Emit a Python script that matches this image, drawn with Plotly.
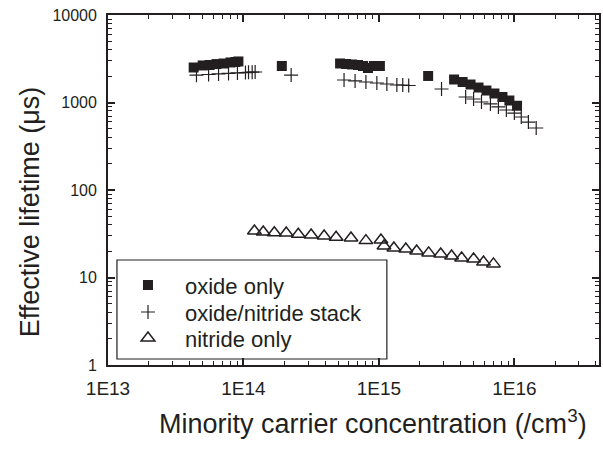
import plotly.graph_objects as go

# ---- data ----
oxide_x = [4.29e13, 5.0e13, 5.62e13, 6.33e13, 7.13e13, 8.02e13, 8.73e13, 9.18e13,
           1.92e14,
           5.17e14, 5.72e14, 6.33e14, 7.01e14, 7.63e14, 8.3e14, 9.18e14, 1.017e15,
           2.31e15,
           3.59e15, 4.15e15, 4.75e15, 5.44e15, 6.22e15, 7.13e15, 8.17e15, 9.19e15, 1.047e16]
oxide_y = [2512, 2650, 2683, 2750, 2790, 2868, 2905, 2945,
           2614,
           2793, 2755, 2720, 2683, 2614, 2479, 2614, 2614,
           2010,
           1832, 1715, 1606, 1483, 1371, 1268, 1156, 1054, 918]

stack_x = [4.5e13, 5.53e13, 6.55e13, 7.76e13, 9.03e13, 1.035e14, 1.09e14, 1.16e14, 1.22e14,
           2.25e14,
           5.53e14, 6.67e14, 8.02e14, 9.66e14, 1.145e15, 1.357e15, 1.5e15, 1.66e15,
           2.9e15,
           4.37e15, 5.0e15, 5.72e15, 6.66e15, 7.63e15, 8.73e15, 1.0e16, 1.125e16, 1.27e16, 1.45e16]
stack_y = [2050, 2090, 2120, 2150, 2180, 2200, 2210, 2220, 2230,
           2060,
           1808, 1762, 1715, 1671, 1627, 1585, 1585, 1564,
           1426,
           1156, 1097, 1013, 962, 889, 821, 758, 683, 598, 511]

nitride_x = [1.205e14, 1.40e14, 1.69e14, 2.07e14, 2.54e14, 3.16e14, 3.94e14, 4.83e14, 6.22e14, 8.02e14,
             1.035e15, 1.09e15,
             1.29e15, 1.58e15, 1.90e15, 2.33e15, 2.86e15, 3.44e15, 4.08e15, 5.0e15, 5.92e15, 7.01e15]
nitride_y = [34.0, 33.1, 32.5, 32.3, 31.2, 30.6, 29.8, 28.8, 28.3, 26.4,
             26.8, 22.9,
             21.7, 21.2, 20.1, 19.1, 18.6, 17.6, 16.7, 16.3, 15.0, 14.3]

x_tickvals = [1e13, 1e14, 1e15, 1e16]
x_ticktext = ["1E13", "1E14", "1E15", "1E16"]
y_tickvals = [1, 10, 100, 1000, 10000]
y_ticktext = ["1", "10", "100", "1000", "10000"]
x_minor = [m * 10 ** e for e in range(13, 17) for m in range(2, 10)]
y_minor = [m * 10 ** e for e in range(0, 4) for m in range(2, 10)]

FONT = "Liberation Sans, Arial, Helvetica, sans-serif"
INK = "#231f20"

fig = go.Figure()
fig.add_trace(go.Scatter(x=oxide_x, y=oxide_y, mode="markers", name="oxide only",
                         legend="legend",
                         marker=dict(symbol="square", size=10, color=INK, line=dict(width=0))))
fig.add_trace(go.Scatter(x=stack_x, y=stack_y, mode="markers", name="oxide/nitride stack",
                         legend="legend2",
                         marker=dict(symbol="cross-thin", size=10, color=INK,
                                     line=dict(width=1.2, color=INK))))
fig.add_trace(go.Scatter(x=nitride_x, y=nitride_y, mode="markers", name="nitride only",
                         legend="legend3",
                         marker=dict(symbol="triangle-up-open", size=12, color=INK,
                                     line=dict(width=1.5, color=INK))))

axis_common = dict(type="log", showgrid=False, zeroline=False, showline=True,
                   linecolor=INK, linewidth=1.8, mirror="ticks", ticks="inside",
                   ticklen=7, tickwidth=1.5, tickcolor=INK)

fig.update_xaxes(**axis_common, range=[13, 16.625], tickmode="array",
                 tickvals=x_tickvals, ticktext=x_ticktext,
                 tickfont=dict(family=FONT, size=19, color=INK), ticklabelstandoff=5,
                 minor=dict(tickmode="array", tickvals=x_minor, ticks="inside",
                            ticklen=4, tickwidth=1.2, tickcolor=INK, showgrid=False))
fig.update_yaxes(**axis_common, range=[0, 4], tickmode="array",
                 tickvals=y_tickvals, ticktext=y_ticktext,
                 tickfont=dict(family=FONT, size=16, color=INK), ticklabelstandoff=6,
                 minor=dict(tickmode="array", tickvals=y_minor, ticks="inside",
                            ticklen=4, tickwidth=1.2, tickcolor=INK, showgrid=False))

L, R, T, B = 108, 2, 15, 84
W, H = 603, 449
pw, ph = W - L - R, H - T - B

def px_x(p):
    return (p - L) / pw

def px_y(p):
    return (H - B - p) / ph

fig.add_shape(type="rect", xref="paper", yref="paper",
              x0=px_x(117), x1=px_x(388), y0=px_y(260), y1=px_y(359),
              line=dict(color=INK, width=1.2), fillcolor="rgba(0,0,0,0)", layer="above")

fig.add_annotation(text="Minority carrier concentration (/cm<sup>3</sup>)",
                   xref="paper", yref="paper", x=px_x(374), y=px_y(422),
                   xanchor="center", yanchor="middle", showarrow=False,
                   font=dict(family=FONT, size=27, color=INK))
fig.add_annotation(text="Effective lifetime (μs)", textangle=-90,
                   xref="paper", yref="paper", x=px_x(30), y=px_y(212),
                   xanchor="center", yanchor="middle", showarrow=False,
                   font=dict(family=FONT, size=27, color=INK))

LEG_FS = 22
row_h = LEG_FS * 1.3 + 3
def leg(center_px):
    top = center_px - 5 - row_h / 2
    return dict(x=px_x(111), y=px_y(top), xanchor="left", yanchor="top",
                bgcolor="rgba(0,0,0,0)", borderwidth=0, itemwidth=64,
                font=dict(family=FONT, size=LEG_FS, color=INK))

fig.update_layout(
    width=W, height=H,
    margin=dict(l=L, r=R, t=T, b=B, pad=0),
    paper_bgcolor="white", plot_bgcolor="white",
    showlegend=True,
    legend=leg(285), legend2=leg(312), legend3=leg(338),
)

fig.write_html("out.html", config={"displayModeBar": False},
               post_script="document.body.style.margin='0';document.body.style.overflow='hidden';")
